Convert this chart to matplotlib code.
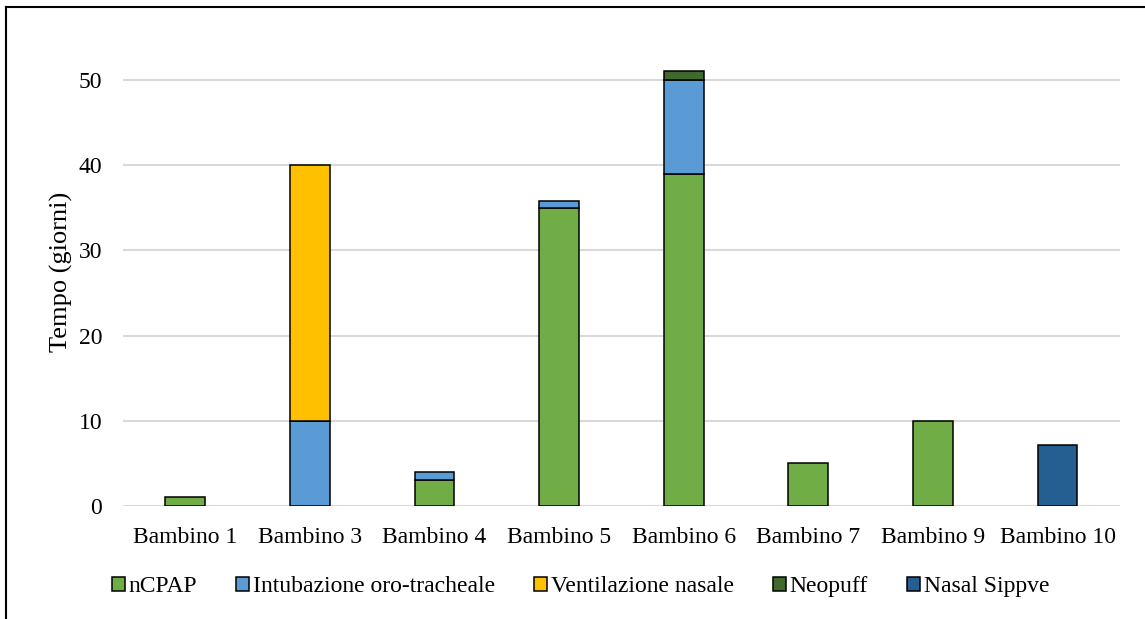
import matplotlib.pyplot as plt
import numpy as np
from matplotlib.lines import Line2D

# ── Data ──────────────────────────────────────────────────────────────────────

categories = ['Bambino 1', 'Bambino 3', 'Bambino 4', 'Bambino 5',
              'Bambino 6', 'Bambino 7', 'Bambino 9', 'Bambino 10']

ncpap        = [1, 0, 3, 35, 39, 5, 10, 0]
intubazione  = [0, 10, 1, 0.8, 11, 0, 0, 0]
ventilazione = [0, 30, 0, 0, 0, 0, 0, 0]
neopuff      = [0, 0, 0, 0, 1, 0, 0, 0]
nasal_sippve = [0, 0, 0, 0, 0, 0, 0, 7.1]

series_labels = ['nCPAP', 'Intubazione oro-tracheale', 'Ventilazione nasale',
                 'Neopuff', 'Nasal Sippve']
series_colours = ['#70AD47', '#5B9BD5', '#FFC000', '#3F6A2C', '#255E91']

# ── Plot ──────────────────────────────────────────────────────────────────────

plt.rcParams['font.family'] = ['Liberation Serif', 'DejaVu Serif']

fig = plt.figure(figsize=(11.45, 6.19), dpi=100)
ax = fig.add_axes([0.1074, 0.1826, 0.8706, 0.757])

x = np.arange(len(categories))
bottom = np.zeros(len(categories))
handles = []
for vals, label, colour in zip(
        [ncpap, intubazione, ventilazione, neopuff, nasal_sippve],
        series_labels, series_colours):
    vals = np.array(vals, dtype=float)
    mask = vals > 0
    ax.bar(x[mask], vals[mask], bottom=bottom[mask], width=0.32,
           color=colour, edgecolor='black', linewidth=1.1, zorder=3)
    bottom += vals
    handles.append(plt.Rectangle((0, 0), 1, 1, facecolor=colour,
                                 edgecolor='black', linewidth=1.1, label=label))

ax.set_xlim(-0.5, len(categories) - 0.5)
ax.set_ylim(0, 55)
ax.set_yticks(np.arange(0, 51, 10))
ax.set_xticks(x)
ax.set_xticklabels(categories)
ax.tick_params(axis='both', length=0, labelsize=17, colors='#000000')
ax.tick_params(axis='y', pad=15)
ax.tick_params(axis='x', pad=15)
ax.grid(axis='y', color='#D9D9D9', linewidth=1.5, zorder=0)
for side in ['top', 'right', 'left', 'bottom']:
    ax.spines[side].set_visible(False)
ax.set_ylabel('Tempo (giorni)', fontsize=19, labelpad=4)

fig.legend(handles=handles, loc='center', bbox_to_anchor=(0.507, 0.052),
           ncol=5, frameon=False, fontsize=17, handlelength=0.55,
           handleheight=0.55, handletextpad=0.15, columnspacing=1.67)

# Outer frame (top and left edges visible, the rest cropped)
fig.add_artist(Line2D([6 / 1145, 1.0], [1 - 7 / 619, 1 - 7 / 619],
                      transform=fig.transFigure, color='black', linewidth=1.5))
fig.add_artist(Line2D([6 / 1145, 6 / 1145], [0.0, 1 - 7 / 619],
                      transform=fig.transFigure, color='black', linewidth=1.5))

fig.savefig('out.png', dpi=100)
